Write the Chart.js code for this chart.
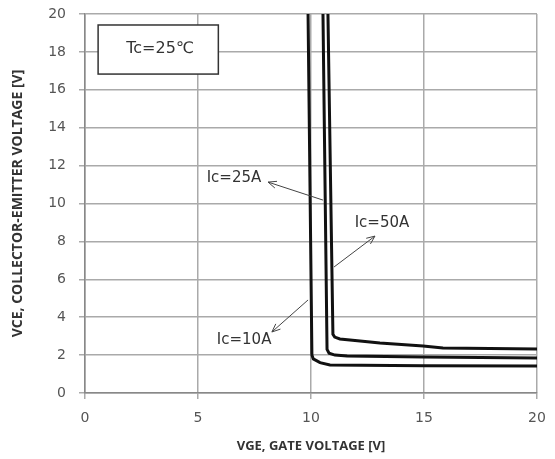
<!DOCTYPE html>
<html>
<head>
<meta charset="utf-8">
<script src="https://cdn.jsdelivr.net/npm/chart.js@4/dist/chart.umd.min.js"></script>
<style>
  html, body { margin: 0; padding: 0; background: #fff; }
  #wrap { width: 555px; height: 459px; }
</style>
</head>
<body>
<div id="wrap"><canvas id="vceChart" width="555" height="459"></canvas></div>
<script>
// VCE vs VGE curves
const vge10 = [9.86, 9.87, 10.04, 10.1, 10.4, 10.84, 15, 20];
const vce10 = [21, 20, 2.0, 1.8, 1.6, 1.48, 1.44, 1.42];

const vge25 = [10.52, 10.53, 10.71, 10.8, 11.06, 11.6, 15, 20];
const vce25 = [21, 20, 2.3, 2.1, 2.0, 1.95, 1.9, 1.85];

const vge50 = [10.74, 10.75, 10.97, 11.05, 11.28, 12.17, 13.05, 14.96, 15.84, 20];
const vce50 = [21, 20, 3.1, 2.95, 2.85, 2.74, 2.64, 2.48, 2.37, 2.32];

const xTicks = [0, 5, 10, 15, 20];
const yTicks = [0, 2, 4, 6, 8, 10, 12, 14, 16, 18, 20];

const toPoints = (xs, ys) => xs.map((x, i) => ({ x: x, y: ys[i] }));

// labels with arrows (data coordinates)
const notes = [
    { text: 'Ic=25A', at: [6.59, 11.35], head: [8.10, 11.13], tail: [10.53, 10.18] },
    { text: 'Ic=50A', at: [13.14, 8.97], head: [12.83, 8.28], tail: [11.02, 6.65] },
    { text: 'Ic=10A', at: [7.04, 2.80], head: [8.27, 3.22], tail: [9.87, 4.91] }
];

const notesPlugin = {
    id: 'notes',
    afterDatasetsDraw(chart) {
        const { ctx, scales: { x, y } } = chart;
        ctx.save();

        // Tc box
        const bx1 = x.getPixelForValue(0.58), by1 = y.getPixelForValue(19.42);
        const bx2 = x.getPixelForValue(5.9), by2 = y.getPixelForValue(16.83);
        ctx.fillStyle = '#fff';
        ctx.fillRect(bx1, by1, bx2 - bx1, by2 - by1);
        ctx.strokeStyle = '#333';
        ctx.lineWidth = 1.5;
        ctx.strokeRect(bx1, by1, bx2 - bx1, by2 - by1);
        ctx.fillStyle = '#333';
        ctx.font = '16px "DejaVu Sans"';
        ctx.textAlign = 'center';
        ctx.textBaseline = 'middle';
        ctx.fillText('Tc=25℃', x.getPixelForValue(3.32), y.getPixelForValue(18.15));

        // arrows and labels
        ctx.font = '15px "DejaVu Sans"';
        notes.forEach(n => {
            const hx = x.getPixelForValue(n.head[0]), hy = y.getPixelForValue(n.head[1]);
            const tx = x.getPixelForValue(n.tail[0]), ty = y.getPixelForValue(n.tail[1]);
            ctx.strokeStyle = '#444';
            ctx.lineWidth = 1;
            ctx.beginPath();
            ctx.moveTo(tx, ty);
            ctx.lineTo(hx, hy);
            const ang = Math.atan2(hy - ty, hx - tx);
            ctx.moveTo(hx - 9 * Math.cos(ang - 0.4), hy - 9 * Math.sin(ang - 0.4));
            ctx.lineTo(hx, hy);
            ctx.lineTo(hx - 9 * Math.cos(ang + 0.4), hy - 9 * Math.sin(ang + 0.4));
            ctx.stroke();
            ctx.fillStyle = '#333';
            ctx.fillText(n.text, x.getPixelForValue(n.at[0]), y.getPixelForValue(n.at[1]));
        });
        ctx.restore();
    }
};

const lineStyle = {
    borderColor: '#111',
    borderWidth: 3,
    pointRadius: 0,
    showLine: true,
    fill: false,
    tension: 0
};

const ctx = document.getElementById('vceChart').getContext('2d');
const vceChart = new Chart(ctx, {
    type: 'scatter',
    data: {
        datasets: [
            { label: 'Ic=10A', data: toPoints(vge10, vce10), ...lineStyle },
            { label: 'Ic=25A', data: toPoints(vge25, vce25), ...lineStyle },
            { label: 'Ic=50A', data: toPoints(vge50, vce50), ...lineStyle }
        ]
    },
    options: {
        responsive: false,
        animation: false,
        layout: { padding: { left: 0, right: 18, top: 14, bottom: 0 } },
        plugins: {
            legend: { display: false },
            tooltip: { enabled: false }
        },
        scales: {
            x: {
                type: 'linear',
                min: 0,
                max: 20,
                afterBuildTicks: axis => { axis.ticks = xTicks.map(v => ({ value: v })); },
                afterFit: axis => {
                    axis.height = 66;
                    axis.paddingLeft = 0;
                    axis.paddingRight = 0;
                },
                ticks: { color: '#555', font: { family: 'DejaVu Sans', size: 14 }, padding: 11 },
                grid: { color: '#aaa', lineWidth: 1.5, tickLength: 6 },
                border: { color: '#888', width: 1.5 },
                title: {
                    display: true,
                    text: 'VGE, GATE VOLTAGE [V]',
                    color: '#333',
                    font: { family: 'Open Sans', size: 13, weight: 'bold' },
                    padding: { top: 0, bottom: 5 }
                }
            },
            y: {
                type: 'linear',
                min: 0,
                max: 20,
                afterBuildTicks: axis => { axis.ticks = yTicks.map(v => ({ value: v })); },
                afterFit: axis => {
                    axis.width = 85;
                    axis.paddingTop = 0;
                    axis.paddingBottom = 0;
                },
                ticks: { color: '#555', font: { family: 'DejaVu Sans', size: 14 }, padding: 13 },
                grid: { color: '#aaa', lineWidth: 1.5, tickLength: 6 },
                border: { color: '#888', width: 1.5 },
                title: {
                    display: true,
                    text: 'VCE, COLLECTOR-EMITTER VOLTAGE [V]',
                    color: '#333',
                    font: { family: 'Open Sans', size: 14, weight: 'bold' },
                    padding: { top: 10, bottom: 4 }
                }
            }
        }
    },
    plugins: [notesPlugin]
});
</script>
</body>
</html>
